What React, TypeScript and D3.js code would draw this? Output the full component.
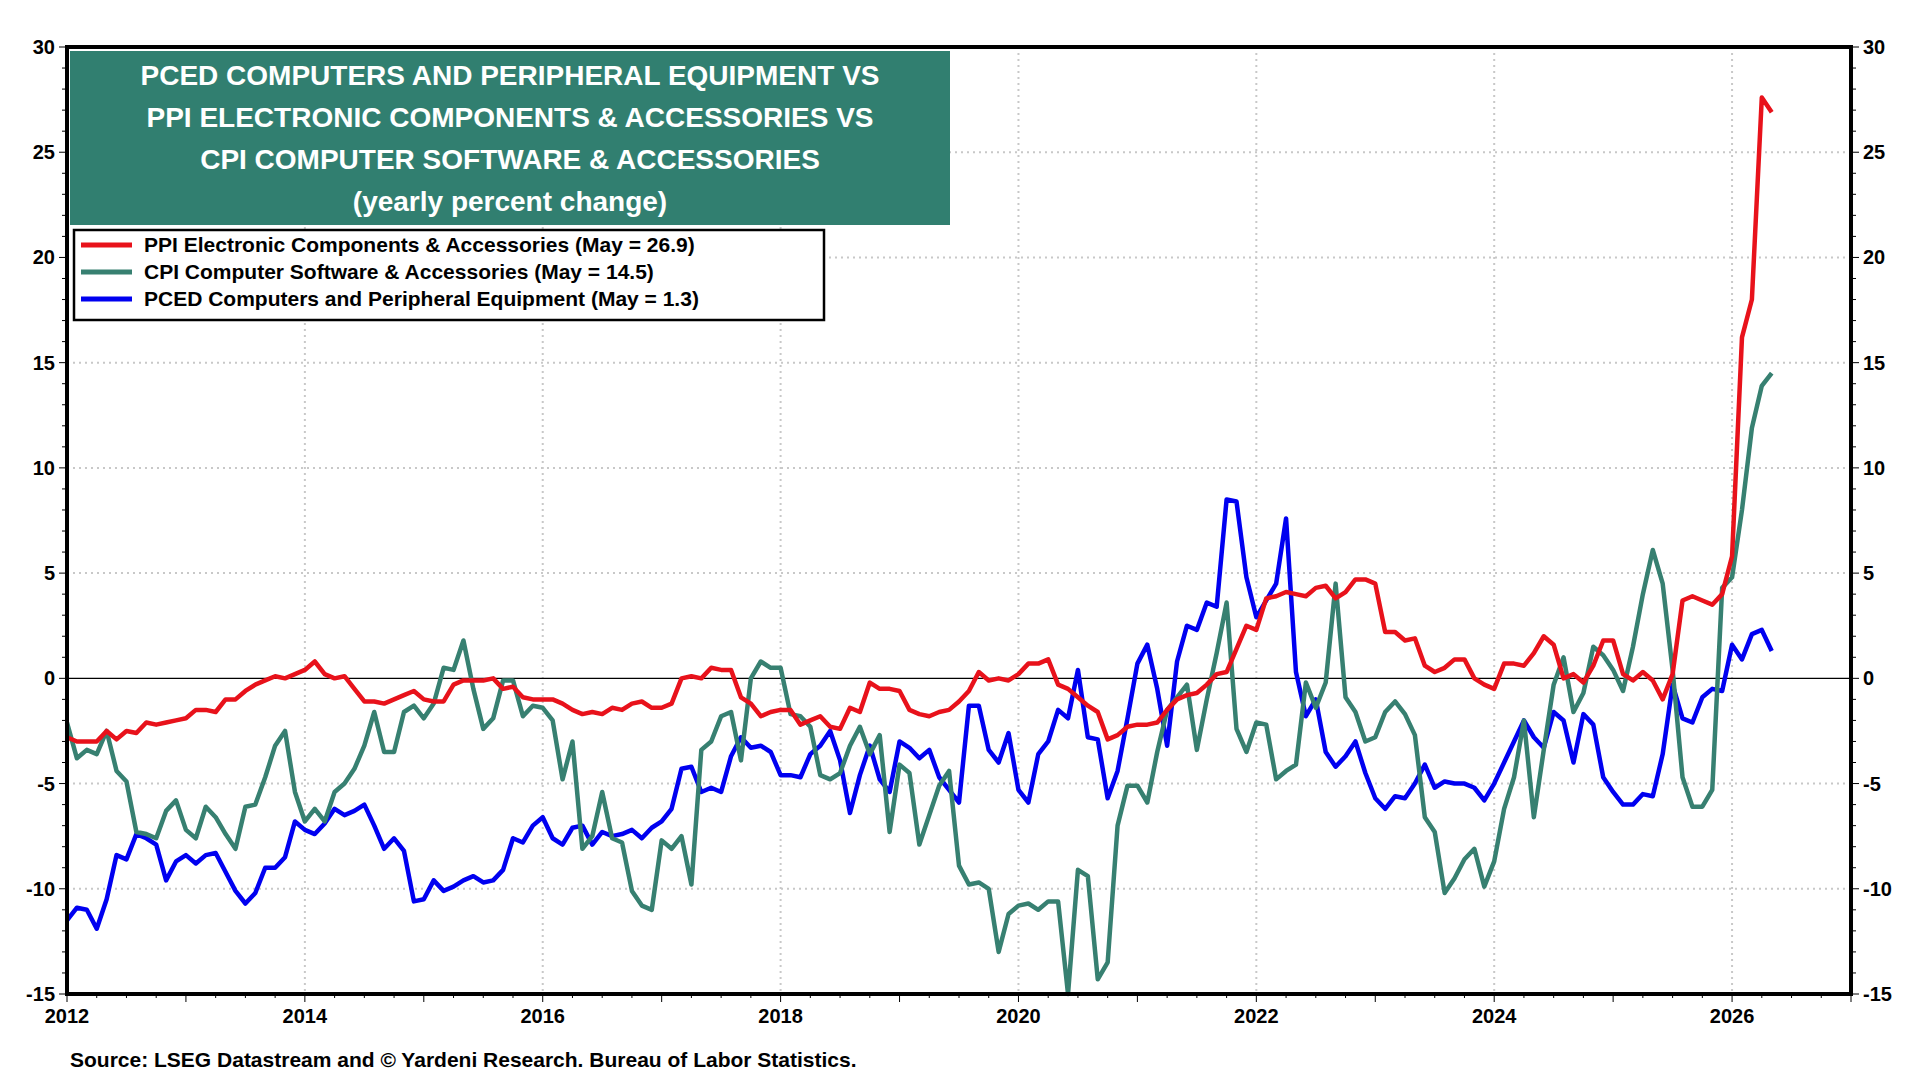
import React from 'react';
import * as d3 from 'd3';

// monthly yearly % change, Jan 2012 .. May 2026
const ppi = [
  -2.8, -3, -3, -3, -2.5, -2.9, -2.5, -2.6, -2.1, -2.2, -2.1, -2.0,
  -1.9, -1.5, -1.5, -1.6, -1.0, -1.0, -0.6, -0.3, -0.1, 0.1, 0.0, 0.2,
  0.4, 0.8, 0.2, 0.0, 0.1, -0.5, -1.1, -1.1, -1.2, -1.0, -0.8, -0.6,
  -1.0, -1.1, -1.1, -0.3, -0.1, -0.1, -0.1, 0.0, -0.5, -0.4, -0.9, -1.0,
  -1.0, -1.0, -1.2, -1.5, -1.7, -1.6, -1.7, -1.4, -1.5, -1.2, -1.1, -1.4,
  -1.4, -1.2, 0.0, 0.1, 0.0, 0.5, 0.4, 0.4, -0.9, -1.2, -1.8, -1.6,
  -1.5, -1.5, -2.2, -2.0, -1.8, -2.3, -2.4, -1.4, -1.6, -0.2, -0.5, -0.5,
  -0.6, -1.5, -1.7, -1.8, -1.6, -1.5, -1.1, -0.6, 0.3, -0.1, 0.0, -0.1,
  0.2, 0.7, 0.7, 0.9, -0.3, -0.5, -0.9, -1.3, -1.6, -2.9, -2.7, -2.3,
  -2.2, -2.2, -2.1, -1.5, -1.0, -0.8, -0.7, -0.3, 0.2, 0.3, 1.4, 2.5,
  2.3, 3.8, 3.9, 4.1, 4.0, 3.9, 4.3, 4.4, 3.8, 4.1, 4.7, 4.7,
  4.5, 2.2, 2.2, 1.8, 1.9, 0.6, 0.3, 0.5, 0.9, 0.9, 0.0, -0.3,
  -0.5, 0.7, 0.7, 0.6, 1.2, 2.0, 1.6, 0.0, 0.2, -0.2, 0.6, 1.8,
  1.8, 0.2, -0.1, 0.3, -0.1, -1.0, 0.2, 3.7, 3.9, 3.7, 3.5, 4.0,
  5.8, 16.2, 18.0, 27.6, 26.9,
];

const cpi = [
  -2.1, -3.8, -3.4, -3.6, -2.5, -4.4, -4.9, -7.3, -7.4, -7.6, -6.3, -5.8,
  -7.2, -7.6, -6.1, -6.6, -7.4, -8.1, -6.1, -6.0, -4.7, -3.2, -2.5, -5.4,
  -6.8, -6.2, -6.8, -5.4, -5.0, -4.3, -3.2, -1.6, -3.5, -3.5, -1.6, -1.3,
  -1.9, -1.2, 0.5, 0.4, 1.8, -0.5, -2.4, -1.9, -0.1, -0.1, -1.8, -1.3,
  -1.4, -2.0, -4.8, -3.0, -8.1, -7.5, -5.4, -7.6, -7.8, -10.1, -10.8, -11.0,
  -7.7, -8.1, -7.5, -9.8, -3.4, -3.0, -1.8, -1.6, -3.9, 0.0, 0.8, 0.5,
  0.5, -1.7, -1.8, -2.3, -4.6, -4.8, -4.5, -3.2, -2.3, -3.6, -2.7, -7.3,
  -4.1, -4.5, -7.9, -6.5, -5.1, -4.4, -8.9, -9.8, -9.7, -10.0, -13.0, -11.2,
  -10.8, -10.7, -11.0, -10.6, -10.6, -15.0, -9.1, -9.4, -14.3, -13.5, -7.0, -5.1,
  -5.1, -5.9, -3.5, -1.5, -0.9, -0.3, -3.4, -1.0, 1.2, 3.6, -2.4, -3.5,
  -2.1, -2.2, -4.8, -4.4, -4.1, -0.2, -1.4, -0.2, 4.5, -0.9, -1.6, -3.0,
  -2.8, -1.6, -1.1, -1.7, -2.7, -6.6, -7.3, -10.2, -9.5, -8.6, -8.1, -9.9,
  -8.7, -6.2, -4.7, -2.0, -6.6, -3.4, -0.3, 1.0, -1.6, -0.7, 1.5, 1.1,
  0.4, -0.6, 1.5, 4.0, 6.1, 4.5, 0.4, -4.7, -6.1, -6.1, -5.3, 4.3,
  4.8, 8.0, 11.9, 13.9, 14.5,
];

const pced = [
  -11.5, -10.9, -11, -11.9, -10.5, -8.4, -8.6, -7.4, -7.6, -7.9, -9.6, -8.7,
  -8.4, -8.8, -8.4, -8.3, -9.2, -10.1, -10.7, -10.2, -9.0, -9.0, -8.5, -6.8,
  -7.2, -7.4, -6.9, -6.2, -6.5, -6.3, -6.0, -7.0, -8.1, -7.6, -8.2, -10.6,
  -10.5, -9.6, -10.1, -9.9, -9.6, -9.4, -9.7, -9.6, -9.1, -7.6, -7.8, -7.0,
  -6.6, -7.6, -7.9, -7.1, -7.0, -7.9, -7.3, -7.5, -7.4, -7.2, -7.6, -7.1,
  -6.8, -6.2, -4.3, -4.2, -5.4, -5.2, -5.4, -3.7, -2.8, -3.3, -3.2, -3.5,
  -4.6, -4.6, -4.7, -3.6, -3.2, -2.5, -3.9, -6.4, -4.6, -3.2, -4.8, -5.4,
  -3.0, -3.3, -3.8, -3.4, -4.7, -5.3, -5.9, -1.3, -1.3, -3.4, -4.0, -2.6,
  -5.3, -5.9, -3.6, -3.0, -1.5, -1.9, 0.4, -2.8, -2.9, -5.7, -4.4, -1.9,
  0.7, 1.6, -0.5, -3.2, 0.8, 2.5, 2.3, 3.6, 3.4, 8.5, 8.4, 4.8,
  2.9, 3.7, 4.5, 7.6, 0.3, -1.8, -1.0, -3.5, -4.2, -3.7, -3.0, -4.5,
  -5.7, -6.2, -5.6, -5.7, -5.0, -4.1, -5.2, -4.9, -5.0, -5.0, -5.2, -5.8,
  -5.0, -4.0, -3.0, -2.0, -2.8, -3.3, -1.6, -2.0, -4.0, -1.7, -2.2, -4.7,
  -5.4, -6.0, -6.0, -5.5, -5.6, -3.6, -0.3, -1.9, -2.1, -0.9, -0.5, -0.6,
  1.6, 0.9, 2.1, 2.3, 1.3,
];

const yTicks = [-15, -10, -5, 0, 5, 10, 15, 20, 25, 30];
const xTicks = [2012, 2014, 2016, 2018, 2020, 2022, 2024, 2026];
const titleLines = [
  'PCED COMPUTERS AND PERIPHERAL EQUIPMENT VS',
  'PPI ELECTRONIC COMPONENTS & ACCESSORIES VS',
  'CPI COMPUTER SOFTWARE & ACCESSORIES',
  '(yearly percent change)',
];
const legend = [
  { label: 'PPI Electronic Components & Accessories (May = 26.9)', color: '#e8121b', values: ppi },
  { label: 'CPI Computer Software & Accessories (May = 14.5)', color: '#378071', values: cpi },
  { label: 'PCED Computers and Peripheral Equipment (May = 1.3)', color: '#0000f0', values: pced },
];

const W = 1920, H = 1080;
const m = { left: 67, right: 1851, top: 47, bottom: 994 };
const font = 'Arial, "Liberation Sans", sans-serif';

export default function App() {
  const x = d3.scaleLinear().domain([2012, 2027]).range([m.left, m.right]);
  const y = d3.scaleLinear().domain([-15, 30]).range([m.bottom, m.top]);
  const mkLine = d3.line<number>().x((_, i) => x(2012 + i / 12)).y(d => y(d));
  const minorY = d3.range(-15, 31, 1);
  const minorX = d3.range(2012, 2027.01, 0.25);

  return (
    <svg width={W} height={H} style={{ position: 'absolute', left: 0, top: 0, background: '#fff' }} fontFamily={font}>
      {/* grid */}
      {yTicks.filter(t => t > -15 && t < 30 && t !== 0).map(t => (
        <line key={'gy' + t} x1={m.left} x2={m.right} y1={y(t)} y2={y(t)} stroke="#c8c8c8" strokeWidth={2} strokeDasharray="2,4" />
      ))}
      {xTicks.filter(t => t > 2012).map(t => (
        <line key={'gx' + t} x1={x(t)} x2={x(t)} y1={m.top} y2={m.bottom} stroke="#c8c8c8" strokeWidth={2} strokeDasharray="2,4" />
      ))}
      <line x1={m.left} x2={m.right} y1={y(0)} y2={y(0)} stroke="#000" strokeWidth={1.2} />
      {/* minor ticks */}
      {minorY.map(t => (
        <g key={'my' + t}>
          <line x1={m.left - (t % 5 === 0 ? 8 : 5)} x2={m.left} y1={y(t)} y2={y(t)} stroke="#000" />
          <line x1={m.right} x2={m.right + (t % 5 === 0 ? 8 : 5)} y1={y(t)} y2={y(t)} stroke="#000" />
        </g>
      ))}
      {minorX.map(t => (
        <line key={'mx' + t} x1={x(t)} x2={x(t)} y1={m.bottom} y2={m.bottom + (Number.isInteger(t) ? 8 : 4)} stroke="#000" />
      ))}
      {/* series */}
      {[legend[2], legend[1], legend[0]].map(s => (
        <path key={s.label} d={mkLine(s.values) || ''} fill="none" stroke={s.color} strokeWidth={4.5} strokeLinejoin="round" />
      ))}
      {/* frame */}
      <rect x={m.left} y={m.top} width={m.right - m.left} height={m.bottom - m.top} fill="none" stroke="#000" strokeWidth={4} />
      {/* axis labels */}
      {yTicks.map(t => (
        <g key={'yl' + t} fontWeight="bold" fontSize={20}>
          <text x={m.left - 12} y={y(t)} dy="0.35em" textAnchor="end">{t}</text>
          <text x={m.right + 12} y={y(t)} dy="0.35em" textAnchor="start">{t}</text>
        </g>
      ))}
      {xTicks.map(t => (
        <text key={'xl' + t} x={x(t)} y={m.bottom + 29} textAnchor="middle" fontWeight="bold" fontSize={20}>{t}</text>
      ))}
      {/* title */}
      <rect x={70} y={51} width={880} height={174} fill="#317f70" />
      {titleLines.map((t, i) => (
        <text key={t} x={510} y={75 + i * 42} dy="0.35em" textAnchor="middle" fill="#fff" fontWeight="bold" fontSize={28}>{t}</text>
      ))}
      {/* legend */}
      <rect x={74} y={230} width={750} height={90} fill="#fff" stroke="#000" strokeWidth={2.5} />
      {legend.map((s, i) => (
        <g key={s.label}>
          <line x1={81} x2={132} y1={245 + i * 27} y2={245 + i * 27} stroke={s.color} strokeWidth={5} />
          <text x={144} y={245 + i * 27} dy="0.35em" fontWeight="bold" fontSize={21}>{s.label}</text>
        </g>
      ))}
      <text x={70} y={1060} dy="0.35em" fontWeight="bold" fontSize={21}>
        Source: LSEG Datastream and © Yardeni Research. Bureau of Labor Statistics.
      </text>
    </svg>
  );
}
